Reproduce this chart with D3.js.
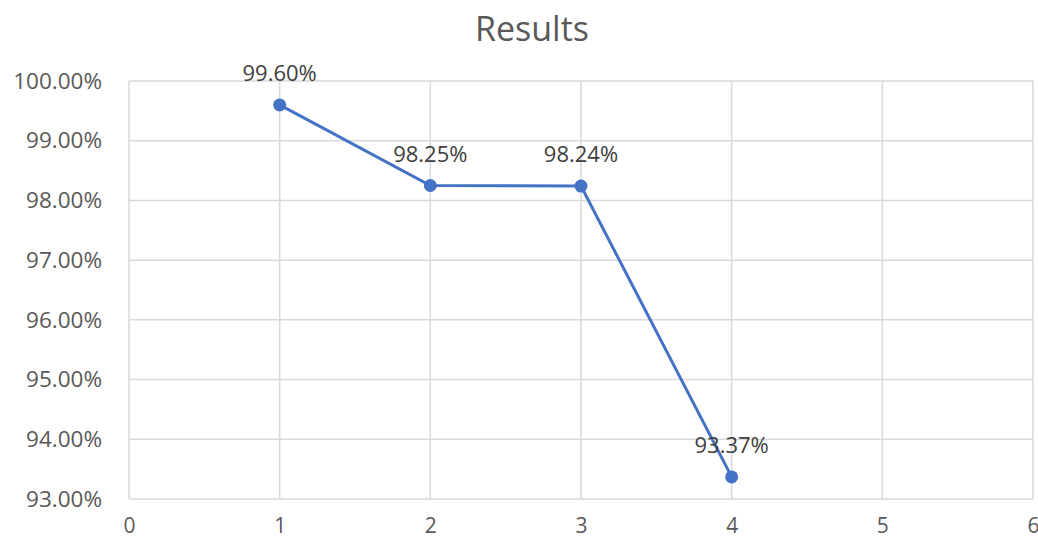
<!DOCTYPE html>
<html><head><meta charset="utf-8">
<script src="https://cdn.jsdelivr.net/npm/d3@7"></script>
<style>body{margin:0;background:#fff}svg{display:block}</style>
</head><body>
<svg id="c" width="1038" height="540"></svg>
<script>
const title = "Results";
const xValues = [1, 2, 3, 4];
const yValues = [0.9960, 0.9825, 0.9824, 0.9337];
const xTicks = [0, 1, 2, 3, 4, 5, 6];
const yTicks = [0.93, 0.94, 0.95, 0.96, 0.97, 0.98, 0.99, 1.00];

const svg = d3.select("#c");
const W = 1038, H = 540;
const m = {left: 129, right: 5, top: 81, bottom: 41};
const x = d3.scaleLinear().domain([0, 6]).range([m.left, W - m.right]);
const y = d3.scaleLinear().domain([0.93, 1.00]).range([H - m.bottom, m.top]);
const font = "'Open Sans', 'Noto Sans', sans-serif";

svg.append("text").attr("x", 532).attr("y", 41).attr("text-anchor", "middle")
  .attr("font-family", font).attr("font-size", 34).attr("fill", "#595959").text(title);

// gridlines
svg.append("g").selectAll("line").data(yTicks).join("line")
  .attr("x1", x(0)).attr("x2", x(6)).attr("y1", d => y(d)).attr("y2", d => y(d))
  .attr("stroke", "#d9d9d9").attr("stroke-width", 1.5);
svg.append("g").selectAll("line").data(xTicks).join("line")
  .attr("x1", d => x(d)).attr("x2", d => x(d)).attr("y1", y(0.93)).attr("y2", y(1.00))
  .attr("stroke", "#d9d9d9").attr("stroke-width", 1.5);

// axes labels
const yAxis = d3.axisLeft(y).tickValues(yTicks).tickFormat(d3.format(".2%")).tickSize(0).tickPadding(27);
const gy = svg.append("g").attr("transform", `translate(${x(0)},0)`).call(yAxis);
gy.select(".domain").remove();
gy.selectAll("text").attr("font-family", font).attr("font-size", 22.5).attr("fill", "#595959");

const xAxis = d3.axisBottom(x).tickValues(xTicks).tickFormat(d3.format("d")).tickSize(0).tickPadding(19);
const gx = svg.append("g").attr("transform", `translate(0,${y(0.93)})`).call(xAxis);
gx.select(".domain").remove();
gx.selectAll("text").attr("font-family", font).attr("font-size", 21).attr("fill", "#595959");

const pts = xValues.map((v, i) => [v, yValues[i]]);
svg.append("path").datum(pts)
  .attr("d", d3.line().x(d => x(d[0])).y(d => y(d[1])))
  .attr("fill", "none").attr("stroke", "#4472C4").attr("stroke-width", 3);
svg.append("g").selectAll("circle").data(pts).join("circle")
  .attr("cx", d => x(d[0])).attr("cy", d => y(d[1])).attr("r", 6.5).attr("fill", "#4472C4");

svg.append("g").selectAll("text").data(pts).join("text")
  .attr("x", d => x(d[0])).attr("y", d => y(d[1]) - 24).attr("text-anchor", "middle")
  .attr("font-family", font).attr("font-size", 22).attr("fill", "#404040")
  .text(d => d3.format(".2%")(d[1]));
</script>
</body></html>
